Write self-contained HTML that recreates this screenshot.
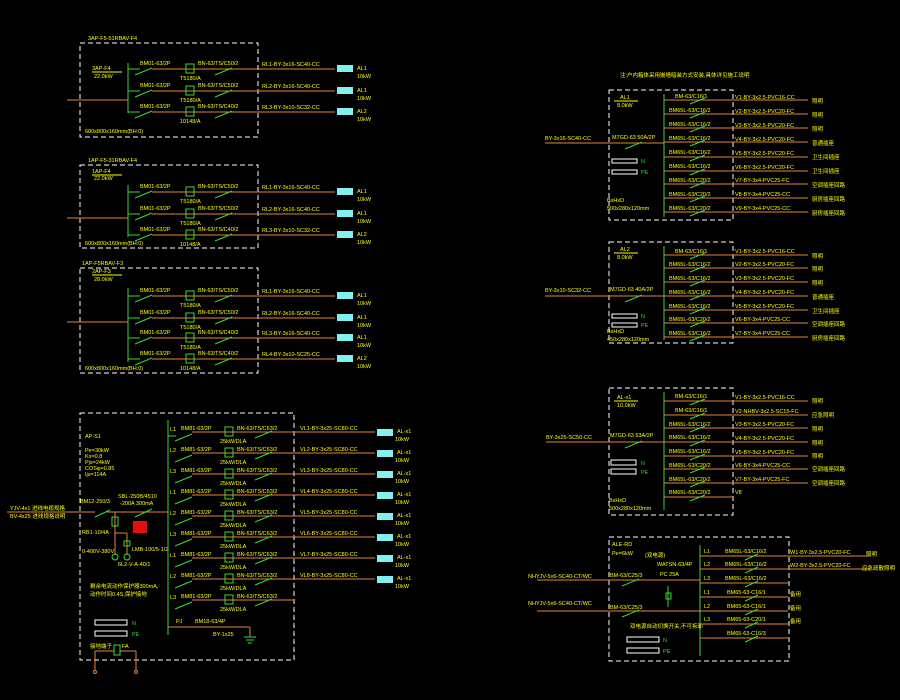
<!DOCTYPE html><html><head><meta charset="utf-8"><style>
html,body{margin:0;padding:0;background:#000;width:900px;height:700px;overflow:hidden}
svg text{font-family:"Liberation Sans","Noto Sans CJK SC",sans-serif;font-size:5.5px;fill:#ffff00}
.o{stroke:#e8823a;stroke-width:1;fill:none}.g{stroke:#33dd33;stroke-width:1;fill:none}
.d{stroke:#fff;stroke-width:1;fill:none;stroke-dasharray:5,3}.c{fill:#80f0f0}
</style></head><body>
<svg width="900" height="700" viewBox="0 0 900 700">
<!-- top-left panels -->
<rect class="d" x="80" y="43" width="178" height="94"/>
<text x="88" y="40">3AP-F5-51RBAV-F4</text><text x="92" y="70">3AP-F4</text><line x1="92" y1="72" x2="122" y2="72" stroke="#ff0"/><text x="94" y="78">22.0kW</text>
<text x="85" y="133">600x800x160mm(BH:0)</text>
<line class="o" x1="67" y1="100" x2="128" y2="100"/><line class="g" x1="128" y1="63" x2="128" y2="113"/>
<g><line class="g" x1="128" y1="69" x2="140" y2="69"/><line class="g" x1="135" y1="75" x2="152" y2="68"/><line class="o" x1="152" y1="69" x2="335" y2="69"/><rect x="186" y="64" width="8" height="9" fill="none" stroke="#3d3"/><line class="g" x1="215" y1="75" x2="232" y2="68"/><text x="140" y="65">BM01-63/2P</text><text x="198" y="65">BN-63/TS/C50/2</text><text x="180" y="80">T5180/A</text><text x="262" y="66">RL1-BY-3x16-SC40-CC</text><rect class="c" x="337" y="65" width="16" height="7"/><text x="357" y="70">AL1</text><text x="357" y="78">10kW</text></g>
<g><line class="g" x1="128" y1="91" x2="140" y2="91"/><line class="g" x1="135" y1="97" x2="152" y2="90"/><line class="o" x1="152" y1="91" x2="335" y2="91"/><rect x="186" y="86" width="8" height="9" fill="none" stroke="#3d3"/><line class="g" x1="215" y1="97" x2="232" y2="90"/><text x="140" y="87">BM01-63/2P</text><text x="198" y="87">BN-63/TS/C50/2</text><text x="180" y="102">T5180/A</text><text x="262" y="88">RL2-BY-3x16-SC40-CC</text><rect class="c" x="337" y="87" width="16" height="7"/><text x="357" y="92">AL1</text><text x="357" y="100">10kW</text></g>
<g><line class="g" x1="128" y1="112" x2="140" y2="112"/><line class="g" x1="135" y1="118" x2="152" y2="111"/><line class="o" x1="152" y1="112" x2="335" y2="112"/><rect x="186" y="107" width="8" height="9" fill="none" stroke="#3d3"/><line class="g" x1="215" y1="118" x2="232" y2="111"/><text x="140" y="108">BM01-63/2P</text><text x="198" y="108">BN-63/TS/C40/2</text><text x="180" y="123">10148/A</text><text x="262" y="109">RL3-BY-3x10-SC32-CC</text><rect class="c" x="337" y="108" width="16" height="7"/><text x="357" y="113">AL2</text><text x="357" y="121">10kW</text></g>

<rect class="d" x="80" y="165" width="178" height="83"/>
<text x="88" y="162">1AP-F5-31RBAV-F4</text><text x="92" y="173">1AP-F4</text><line x1="92" y1="175" x2="122" y2="175" stroke="#ff0"/><text x="94" y="180">22.0kW</text>
<text x="85" y="245">600x800x160mm(BH:0)</text>
<line class="o" x1="67" y1="218" x2="128" y2="218"/><line class="g" x1="128" y1="185" x2="128" y2="237"/>
<g><line class="g" x1="128" y1="192" x2="140" y2="192"/><line class="g" x1="135" y1="198" x2="152" y2="191"/><line class="o" x1="152" y1="192" x2="335" y2="192"/><rect x="186" y="187" width="8" height="9" fill="none" stroke="#3d3"/><line class="g" x1="215" y1="198" x2="232" y2="191"/><text x="140" y="188">BM01-63/2P</text><text x="198" y="188">BN-63/TS/C50/2</text><text x="180" y="203">T5180/A</text><text x="262" y="189">RL1-BY-3x16-SC40-CC</text><rect class="c" x="337" y="188" width="16" height="7"/><text x="357" y="193">AL1</text><text x="357" y="201">10kW</text></g>
<g><line class="g" x1="128" y1="214" x2="140" y2="214"/><line class="g" x1="135" y1="220" x2="152" y2="213"/><line class="o" x1="152" y1="214" x2="335" y2="214"/><rect x="186" y="209" width="8" height="9" fill="none" stroke="#3d3"/><line class="g" x1="215" y1="220" x2="232" y2="213"/><text x="140" y="210">BM01-63/2P</text><text x="198" y="210">BN-63/TS/C50/2</text><text x="180" y="225">T5180/A</text><text x="262" y="211">RL2-BY-3x16-SC40-CC</text><rect class="c" x="337" y="210" width="16" height="7"/><text x="357" y="215">AL1</text><text x="357" y="223">10kW</text></g>
<g><line class="g" x1="128" y1="235" x2="140" y2="235"/><line class="g" x1="135" y1="241" x2="152" y2="234"/><line class="o" x1="152" y1="235" x2="335" y2="235"/><rect x="186" y="230" width="8" height="9" fill="none" stroke="#3d3"/><line class="g" x1="215" y1="241" x2="232" y2="234"/><text x="140" y="231">BM01-63/2P</text><text x="198" y="231">BN-63/TS/C40/2</text><text x="180" y="246">10148/A</text><text x="262" y="232">RL3-BY-3x10-SC32-CC</text><rect class="c" x="337" y="231" width="16" height="7"/><text x="357" y="236">AL2</text><text x="357" y="244">10kW</text></g>

<rect class="d" x="80" y="268" width="178" height="105"/>
<text x="82" y="265">1AP-F5RBAV-F3</text><text x="92" y="273">2AP-F3</text><line x1="92" y1="275" x2="122" y2="275" stroke="#ff0"/><text x="94" y="281">28.0kW</text>
<text x="85" y="370">600x800x160mm(BH:0)</text>
<line class="o" x1="67" y1="322" x2="128" y2="322"/><line class="g" x1="128" y1="288" x2="128" y2="362"/>
<g><line class="g" x1="128" y1="296" x2="140" y2="296"/><line class="g" x1="135" y1="302" x2="152" y2="295"/><line class="o" x1="152" y1="296" x2="335" y2="296"/><rect x="186" y="291" width="8" height="9" fill="none" stroke="#3d3"/><line class="g" x1="215" y1="302" x2="232" y2="295"/><text x="140" y="292">BM01-63/2P</text><text x="198" y="292">BN-63/TS/C50/2</text><text x="180" y="307">T5180/A</text><text x="262" y="293">RL1-BY-3x16-SC40-CC</text><rect class="c" x="337" y="292" width="16" height="7"/><text x="357" y="297">AL1</text><text x="357" y="305">10kW</text></g>
<g><line class="g" x1="128" y1="318" x2="140" y2="318"/><line class="g" x1="135" y1="324" x2="152" y2="317"/><line class="o" x1="152" y1="318" x2="335" y2="318"/><rect x="186" y="313" width="8" height="9" fill="none" stroke="#3d3"/><line class="g" x1="215" y1="324" x2="232" y2="317"/><text x="140" y="314">BM01-63/2P</text><text x="198" y="314">BN-63/TS/C50/2</text><text x="180" y="329">T5180/A</text><text x="262" y="315">RL2-BY-3x16-SC40-CC</text><rect class="c" x="337" y="314" width="16" height="7"/><text x="357" y="319">AL1</text><text x="357" y="327">10kW</text></g>
<g><line class="g" x1="128" y1="338" x2="140" y2="338"/><line class="g" x1="135" y1="344" x2="152" y2="337"/><line class="o" x1="152" y1="338" x2="335" y2="338"/><rect x="186" y="333" width="8" height="9" fill="none" stroke="#3d3"/><line class="g" x1="215" y1="344" x2="232" y2="337"/><text x="140" y="334">BM01-63/2P</text><text x="198" y="334">BN-63/TS/C40/2</text><text x="180" y="349">T5180/A</text><text x="262" y="335">RL3-BY-3x16-SC40-CC</text><rect class="c" x="337" y="334" width="16" height="7"/><text x="357" y="339">AL1</text><text x="357" y="347">10kW</text></g>
<g><line class="g" x1="128" y1="359" x2="140" y2="359"/><line class="g" x1="135" y1="365" x2="152" y2="358"/><line class="o" x1="152" y1="359" x2="335" y2="359"/><rect x="186" y="354" width="8" height="9" fill="none" stroke="#3d3"/><line class="g" x1="215" y1="365" x2="232" y2="358"/><text x="140" y="355">BM01-63/2P</text><text x="198" y="355">BN-63/TS/C40/2</text><text x="180" y="370">10148/A</text><text x="262" y="356">RL4-BY-3x10-SC25-CC</text><rect class="c" x="337" y="355" width="16" height="7"/><text x="357" y="360">AL2</text><text x="357" y="368">10kW</text></g>

<!-- bottom-left AP -->
<rect class="d" x="80" y="413" width="214" height="247"/>
<text x="85" y="438">AP-S1</text><text x="85" y="452">Pe=30kW</text><text x="85" y="458">Kx=0.8</text><text x="85" y="464">Pjs=24kW</text><text x="85" y="470">COSφ=0.85</text><text x="85" y="476">Ijs=114A</text>
<text x="10" y="510">YJV-4x1 进线电缆规格</text><text x="10" y="518">BV-4x25 进线规格说明</text>
<line class="o" x1="7" y1="512" x2="95" y2="512"/><line class="o" x1="107" y1="512" x2="168" y2="512"/><line class="g" x1="95" y1="517" x2="110" y2="510"/>
<text x="80" y="503">BM12-250/3</text><text x="118" y="498">SBL-250B/4510</text><text x="120" y="505">-200A 300mA</text>
<line class="g" x1="135" y1="517" x2="152" y2="509"/>
<rect x="133" y="521" width="14" height="12" fill="#e01010"/>
<line class="o" x1="115" y1="512" x2="115" y2="555"/><rect x="112" y="517" width="6" height="9" fill="none" stroke="#3d3"/>
<line class="o" x1="115" y1="533" x2="127" y2="533" /><line class="o" x1="127" y1="533" x2="127" y2="555"/>
<rect x="124" y="541" width="6" height="5" fill="none" stroke="#3d3"/>
<circle cx="115" cy="557" r="3" fill="none" stroke="#3d3"/><circle cx="127" cy="557" r="3" fill="none" stroke="#3d3"/>
<text x="82" y="534">RB1-10/4A</text><text x="132" y="551">LMB-100/5-1/2</text><text x="82" y="553">0-400V-380V</text><text x="118" y="566">6L2-V-A-40/1</text>
<text x="90" y="588">剩余电流动作保护器300mA,</text><text x="90" y="596">动作时间0.4S,保护接地</text>
<rect x="95" y="620" width="32" height="5" fill="none" stroke="#fff"/><rect x="95" y="631" width="32" height="5" fill="none" stroke="#fff"/>
<text x="132" y="625" style="fill:#3d3">N</text><text x="132" y="636" style="fill:#3d3">PE</text>
<text x="90" y="648">接地端子</text><text x="122" y="648">FA</text>
<line class="o" x1="95" y1="651" x2="114" y2="651"/><line class="o" x1="120" y1="651" x2="136" y2="651"/><rect x="114" y="645" width="6" height="10" fill="none" stroke="#3d3"/>
<line class="o" x1="95" y1="651" x2="95" y2="670"/><line class="o" x1="136" y1="651" x2="136" y2="670"/><circle cx="95" cy="672" r="1.5" fill="none" stroke="#e8823a"/><circle cx="136" cy="672" r="1.5" fill="none" stroke="#e8823a"/>
<line class="g" x1="168" y1="420" x2="168" y2="635"/>
<g id="r1"><text x="170" y="431">L1</text><text x="181" y="430">BM81-63/2P</text><text x="237" y="430">BN-63/TS/C63/2</text><text x="220" y="443">25kW/DLA</text><line class="g" x1="168" y1="436" x2="176" y2="436"/><line class="g" x1="175" y1="441" x2="192" y2="434"/><line class="o" x1="192" y1="432" x2="375" y2="432"/><rect x="225" y="427" width="8" height="9" fill="none" stroke="#3d3"/><line class="g" x1="255" y1="438" x2="272" y2="431"/><text x="300" y="430">VL1-BY-3x25-SC80-CC</text><rect class="c" x="377" y="429" width="16" height="7"/><text x="397" y="433">AL-x1</text><text x="395" y="441">10kW</text></g>
<g><text x="170" y="452">L2</text><text x="181" y="451">BM81-63/2P</text><text x="237" y="451">BN-63/TS/C63/2</text><text x="220" y="464">25kW/DLA</text><line class="g" x1="175" y1="462" x2="192" y2="455"/><line class="o" x1="192" y1="453" x2="375" y2="453"/><rect x="225" y="448" width="8" height="9" fill="none" stroke="#3d3"/><line class="g" x1="255" y1="459" x2="272" y2="452"/><text x="300" y="451">VL2-BY-3x25-SC80-CC</text><rect class="c" x="377" y="450" width="16" height="7"/><text x="397" y="454">AL-x1</text><text x="395" y="462">10kW</text></g>
<g><text x="170" y="473">L3</text><text x="181" y="472">BM81-63/2P</text><text x="237" y="472">BN-63/TS/C63/2</text><text x="220" y="485">25kW/DLA</text><line class="g" x1="175" y1="483" x2="192" y2="476"/><line class="o" x1="192" y1="474" x2="375" y2="474"/><rect x="225" y="469" width="8" height="9" fill="none" stroke="#3d3"/><line class="g" x1="255" y1="480" x2="272" y2="473"/><text x="300" y="472">VL3-BY-3x25-SC80-CC</text><rect class="c" x="377" y="471" width="16" height="7"/><text x="397" y="475">AL-x1</text><text x="395" y="483">10kW</text></g>
<g><text x="170" y="494">L1</text><text x="181" y="493">BM81-63/2P</text><text x="237" y="493">BN-63/TS/C63/2</text><text x="220" y="506">25kW/DLA</text><line class="g" x1="175" y1="504" x2="192" y2="497"/><line class="o" x1="192" y1="495" x2="375" y2="495"/><rect x="225" y="490" width="8" height="9" fill="none" stroke="#3d3"/><line class="g" x1="255" y1="501" x2="272" y2="494"/><text x="300" y="493">VL4-BY-3x25-SC80-CC</text><rect class="c" x="377" y="492" width="16" height="7"/><text x="397" y="496">AL-x1</text><text x="395" y="504">10kW</text></g>
<g><text x="170" y="515">L2</text><text x="181" y="514">BM81-63/2P</text><text x="237" y="514">BN-63/TS/C63/2</text><text x="220" y="527">25kW/DLA</text><line class="g" x1="175" y1="525" x2="192" y2="518"/><line class="o" x1="192" y1="516" x2="375" y2="516"/><rect x="225" y="511" width="8" height="9" fill="none" stroke="#3d3"/><line class="g" x1="255" y1="522" x2="272" y2="515"/><text x="300" y="514">VL5-BY-3x25-SC80-CC</text><rect class="c" x="377" y="513" width="16" height="7"/><text x="397" y="517">AL-x1</text><text x="395" y="525">10kW</text></g>
<g><text x="170" y="536">L3</text><text x="181" y="535">BM81-63/2P</text><text x="237" y="535">BN-63/TS/C63/2</text><text x="220" y="548">25kW/DLA</text><line class="g" x1="175" y1="546" x2="192" y2="539"/><line class="o" x1="192" y1="537" x2="375" y2="537"/><rect x="225" y="532" width="8" height="9" fill="none" stroke="#3d3"/><line class="g" x1="255" y1="543" x2="272" y2="536"/><text x="300" y="535">VL6-BY-3x25-SC80-CC</text><rect class="c" x="377" y="534" width="16" height="7"/><text x="397" y="538">AL-x1</text><text x="395" y="546">10kW</text></g>
<g><text x="170" y="557">L1</text><text x="181" y="556">BM81-63/2P</text><text x="237" y="556">BN-63/TS/C63/2</text><text x="220" y="569">25kW/DLA</text><line class="g" x1="175" y1="567" x2="192" y2="560"/><line class="o" x1="192" y1="558" x2="375" y2="558"/><rect x="225" y="553" width="8" height="9" fill="none" stroke="#3d3"/><line class="g" x1="255" y1="564" x2="272" y2="557"/><text x="300" y="556">VL7-BY-3x25-SC80-CC</text><rect class="c" x="377" y="555" width="16" height="7"/><text x="397" y="559">AL-x1</text><text x="395" y="567">10kW</text></g>
<g><text x="170" y="578">L2</text><text x="181" y="577">BM81-63/2P</text><text x="237" y="577">BN-63/TS/C63/2</text><text x="220" y="590">25kW/DLA</text><line class="g" x1="175" y1="588" x2="192" y2="581"/><line class="o" x1="192" y1="579" x2="375" y2="579"/><rect x="225" y="574" width="8" height="9" fill="none" stroke="#3d3"/><line class="g" x1="255" y1="585" x2="272" y2="578"/><text x="300" y="577">VL8-BY-3x25-SC80-CC</text><rect class="c" x="377" y="576" width="16" height="7"/><text x="397" y="580">AL-x1</text><text x="395" y="588">10kW</text></g>
<g><text x="170" y="599">L3</text><text x="181" y="598">BM81-63/2P</text><text x="237" y="598">BN-63/TS/C63/2</text><text x="220" y="611">25kW/DLA</text><line class="g" x1="175" y1="609" x2="192" y2="602"/><line class="o" x1="192" y1="600" x2="294" y2="600"/><rect x="225" y="595" width="8" height="9" fill="none" stroke="#3d3"/><line class="g" x1="255" y1="606" x2="272" y2="599"/></g>
<text x="176" y="623">PJ</text><text x="195" y="623">BM18-63/4P</text><text x="213" y="636">BY-1x25</text>
<line class="o" x1="168" y1="627" x2="250" y2="627"/><line class="o" x1="250" y1="627" x2="250" y2="637"/><line x1="244" y1="637" x2="256" y2="637" stroke="#3d3"/><line x1="246" y1="640" x2="254" y2="640" stroke="#3d3"/><line x1="248" y1="643" x2="252" y2="643" stroke="#3d3"/>

<!-- right AL1 -->
<text x="620" y="77">注:户内箱体采用嵌墙暗装方式安装,具体详见施工说明</text>
<rect class="d" x="609" y="90" width="124" height="130"/>
<text x="620" y="99">AL1</text><line x1="614" y1="101" x2="638" y2="101" stroke="#ff0"/><text x="617" y="107">8.0kW</text>
<text x="545" y="140">BY-3x16-SC40-CC</text><text x="612" y="139">M7GD-63 50A/2P</text>
<line class="o" x1="545" y1="143" x2="664" y2="143"/><line class="g" x1="625" y1="149" x2="642" y2="142"/>
<rect x="612" y="159" width="25" height="4" fill="none" stroke="#fff"/><rect x="612" y="170" width="25" height="4" fill="none" stroke="#fff"/><text x="641" y="163" style="fill:#3d3">N</text><text x="641" y="174" style="fill:#3d3">PE</text>
<text x="607" y="202">BxHxD</text><text x="607" y="210">500x280x120mm</text>
<line class="g" x1="664" y1="94" x2="664" y2="217"/>
<g class="o"><line x1="664" y1="100" x2="808" y2="100"/><line x1="664" y1="114" x2="808" y2="114"/><line x1="664" y1="128" x2="808" y2="128"/><line x1="664" y1="142" x2="808" y2="142"/><line x1="664" y1="157" x2="808" y2="157"/><line x1="664" y1="171" x2="808" y2="171"/><line x1="664" y1="184" x2="808" y2="184"/><line x1="664" y1="198" x2="808" y2="198"/><line x1="664" y1="212" x2="808" y2="212"/></g>
<g class="g"><line x1="690" y1="104" x2="705" y2="98"/><line x1="690" y1="118" x2="705" y2="112"/><line x1="690" y1="132" x2="705" y2="126"/><line x1="690" y1="146" x2="705" y2="140"/><line x1="690" y1="161" x2="705" y2="155"/><line x1="690" y1="175" x2="705" y2="169"/><line x1="690" y1="188" x2="705" y2="182"/><line x1="690" y1="202" x2="705" y2="196"/><line x1="690" y1="216" x2="705" y2="210"/></g>
<text x="675" y="98">BM-63/C16/1</text><text x="669" y="112">BM65L-63/C16/2</text><text x="669" y="126">BM65L-63/C16/2</text><text x="669" y="140">BM65L-63/C16/2</text><text x="669" y="154">BM65L-63/C16/2</text><text x="669" y="168">BM65L-63/C16/2</text><text x="669" y="182">BM65L-63/C20/2</text><text x="669" y="196">BM65L-63/C20/2</text><text x="669" y="210">BM65L-63/C20/2</text>
<text x="735" y="99">V1-BY-3x2.5-PVC16-CC</text><text x="735" y="113">V2-BY-3x2.5-PVC20-FC</text><text x="735" y="127">V3-BY-3x2.5-PVC20-FC</text><text x="735" y="141">V4-BY-3x2.5-PVC20-FC</text><text x="735" y="155">V5-BY-3x2.5-PVC20-FC</text><text x="735" y="169">V6-BY-3x2.5-PVC20-FC</text><text x="735" y="182">V7-BY-3x4-PVC25-FC</text><text x="735" y="196">V8-BY-3x4-PVC25-CC</text><text x="735" y="210">V9-BY-3x4-PVC25-CC</text>
<text x="812" y="103">照明</text><text x="812" y="117">照明</text><text x="812" y="131">照明</text><text x="812" y="145">普通插座</text><text x="812" y="159">卫生间插座</text><text x="812" y="173">卫生间插座</text><text x="812" y="187">空调插座回路</text><text x="812" y="201">厨房插座回路</text><text x="812" y="215">厨房插座回路</text>

<!-- AL2 -->
<rect class="d" x="609" y="242" width="124" height="101"/>
<text x="620" y="251">AL2</text><line x1="614" y1="253" x2="638" y2="253" stroke="#ff0"/><text x="617" y="259">8.0kW</text>
<text x="545" y="292">BY-3x10-SC32-CC</text><text x="610" y="291">M7GD-63 40A/2P</text>
<line class="o" x1="545" y1="296" x2="664" y2="296"/><line class="g" x1="625" y1="302" x2="642" y2="295"/>
<rect x="612" y="314" width="25" height="4" fill="none" stroke="#fff"/><rect x="612" y="323" width="25" height="4" fill="none" stroke="#fff"/><text x="641" y="318" style="fill:#3d3">N</text><text x="641" y="327" style="fill:#3d3">PE</text>
<text x="607" y="333">BxHxD</text><text x="607" y="341">450x280x120mm</text>
<line class="g" x1="664" y1="246" x2="664" y2="340"/>
<g class="o"><line x1="664" y1="255" x2="808" y2="255"/><line x1="664" y1="268" x2="808" y2="268"/><line x1="664" y1="282" x2="808" y2="282"/><line x1="664" y1="296" x2="808" y2="296"/><line x1="664" y1="310" x2="808" y2="310"/><line x1="664" y1="323" x2="808" y2="323"/><line x1="664" y1="337" x2="808" y2="337"/></g>
<g class="g"><line x1="690" y1="259" x2="705" y2="253"/><line x1="690" y1="272" x2="705" y2="266"/><line x1="690" y1="286" x2="705" y2="280"/><line x1="690" y1="300" x2="705" y2="294"/><line x1="690" y1="314" x2="705" y2="308"/><line x1="690" y1="327" x2="705" y2="321"/><line x1="690" y1="341" x2="705" y2="335"/></g>
<text x="675" y="253">BM-63/C16/1</text><text x="669" y="266">BM65L-63/C16/2</text><text x="669" y="280">BM65L-63/C16/2</text><text x="669" y="294">BM65L-63/C16/2</text><text x="669" y="308">BM65L-63/C16/2</text><text x="669" y="321">BM65L-63/C20/2</text><text x="669" y="335">BM65L-63/C16/2</text>
<text x="735" y="253">V1-BY-3x2.5-PVC16-CC</text><text x="735" y="266">V2-BY-3x2.5-PVC20-FC</text><text x="735" y="280">V3-BY-3x2.5-PVC20-FC</text><text x="735" y="294">V4-BY-3x2.5-PVC20-FC</text><text x="735" y="308">V5-BY-3x2.5-PVC20-FC</text><text x="735" y="321">V6-BY-3x4-PVC25-CC</text><text x="735" y="335">V7-BY-3x4-PVC25-CC</text>
<text x="812" y="258">照明</text><text x="812" y="271">照明</text><text x="812" y="285">照明</text><text x="812" y="299">普通插座</text><text x="812" y="313">卫生间插座</text><text x="812" y="326">空调插座回路</text><text x="812" y="340">厨房插座回路</text>

<!-- AL3 -->
<rect class="d" x="609" y="388" width="124" height="127"/>
<text x="617" y="399">AL-x1</text><line x1="614" y1="401" x2="638" y2="401" stroke="#ff0"/><text x="617" y="407">10.0kW</text>
<text x="546" y="439">BY-3x25-SC50-CC</text><text x="610" y="437">M7GD-63 63A/2P</text>
<line class="o" x1="546" y1="442" x2="664" y2="442"/><line class="g" x1="625" y1="448" x2="642" y2="441"/>
<rect x="611" y="460" width="25" height="5" fill="none" stroke="#fff"/><rect x="611" y="469" width="25" height="5" fill="none" stroke="#fff"/><text x="641" y="465" style="fill:#3d3">N</text><text x="641" y="474" style="fill:#3d3">PE</text>
<text x="609" y="502">BxHxD</text><text x="609" y="510">500x280x120mm</text>
<line class="g" x1="664" y1="392" x2="664" y2="510"/>
<g class="o"><line x1="664" y1="401" x2="808" y2="401"/><line x1="664" y1="415" x2="808" y2="415"/><line x1="664" y1="428" x2="808" y2="428"/><line x1="664" y1="442" x2="808" y2="442"/><line x1="664" y1="456" x2="808" y2="456"/><line x1="664" y1="469" x2="808" y2="469"/><line x1="664" y1="483" x2="808" y2="483"/><line x1="664" y1="497" x2="733" y2="497"/></g>
<g class="g"><line x1="690" y1="405" x2="705" y2="399"/><line x1="690" y1="419" x2="705" y2="413"/><line x1="690" y1="432" x2="705" y2="426"/><line x1="690" y1="446" x2="705" y2="440"/><line x1="690" y1="460" x2="705" y2="454"/><line x1="690" y1="473" x2="705" y2="467"/><line x1="690" y1="487" x2="705" y2="481"/><line x1="690" y1="501" x2="705" y2="495"/></g>
<text x="675" y="398">BM-63/C16/1</text><text x="675" y="412">BM-63/C16/1</text><text x="669" y="426">BM65L-63/C16/2</text><text x="669" y="439">BM65L-63/C16/2</text><text x="669" y="453">BM65L-63/C16/2</text><text x="669" y="467">BM65L-63/C20/2</text><text x="669" y="481">BM65L-63/C20/2</text><text x="669" y="494">BM65L-63/C20/2</text>
<text x="735" y="399">V1-BY-3x2.5-PVC16-CC</text><text x="735" y="413">V2-NHBV-3x2.5-SC15-FC</text><text x="735" y="426">V3-BY-3x2.5-PVC20-FC</text><text x="735" y="440">V4-BY-3x2.5-PVC20-FC</text><text x="735" y="454">V5-BY-3x2.5-PVC20-FC</text><text x="735" y="467">V6-BY-3x4-PVC25-CC</text><text x="735" y="481">V7-BY-3x4-PVC25-FC</text><text x="735" y="494">V8</text>
<text x="812" y="403">照明</text><text x="812" y="417">应急照明</text><text x="812" y="431">照明</text><text x="812" y="445">照明</text><text x="812" y="458">照明</text><text x="812" y="471">空调插座回路</text><text x="812" y="485">空调插座回路</text>

<!-- ALE -->
<rect class="d" x="609" y="537" width="180" height="124"/>
<text x="612" y="546">ALE-RD</text><text x="612" y="555">Pe=6kW</text><text x="645" y="557">(双电源)</text>
<text x="657" y="566">WATSN-63/4P</text><text x="660" y="576">PC 25A</text>
<text x="528" y="578">NHYJV-5x6-SC40-CT/WC</text><text x="528" y="605">NHYJV-5x6-SC40-CT/WC</text>
<text x="610" y="577">BM-63/C25/3</text><text x="610" y="609">BM-63/C25/3</text>
<line class="o" x1="537" y1="580" x2="700" y2="580"/><line class="o" x1="537" y1="611" x2="700" y2="611"/>
<line class="g" x1="622" y1="586" x2="639" y2="579"/><line class="g" x1="622" y1="617" x2="639" y2="610"/>
<line class="g" x1="668" y1="586" x2="668" y2="607"/><rect x="666" y="593" width="5" height="6" fill="none" stroke="#3d3"/>
<text x="630" y="628">双电源自动切换开关,不可拆卸</text>
<rect x="627" y="637" width="32" height="5" fill="none" stroke="#fff"/><rect x="627" y="648" width="32" height="5" fill="none" stroke="#fff"/><text x="663" y="642" style="fill:#3d3">N</text><text x="663" y="653" style="fill:#3d3">PE</text>
<line class="g" x1="700" y1="545" x2="700" y2="656"/>
<text x="704" y="553">L1</text><text x="704" y="566">L2</text><text x="704" y="580">L3</text><text x="704" y="594">L1</text><text x="704" y="608">L2</text><text x="704" y="621">L3</text>
<g class="o"><line x1="700" y1="556" x2="870" y2="556"/><line x1="700" y1="569" x2="870" y2="569"/><line x1="700" y1="583" x2="788" y2="583"/><line x1="700" y1="597" x2="788" y2="597"/><line x1="700" y1="611" x2="788" y2="611"/><line x1="700" y1="624" x2="788" y2="624"/><line x1="700" y1="638" x2="788" y2="638"/></g>
<g class="g"><line x1="745" y1="560" x2="758" y2="554"/><line x1="745" y1="573" x2="758" y2="567"/><line x1="745" y1="587" x2="758" y2="581"/><line x1="745" y1="601" x2="758" y2="595"/><line x1="745" y1="615" x2="758" y2="609"/><line x1="745" y1="628" x2="758" y2="622"/><line x1="745" y1="642" x2="758" y2="636"/></g>
<text x="725" y="553">BM65L-63/C16/2</text><text x="725" y="566">BM65L-63/C16/2</text><text x="725" y="580">BM65L-63/C16/2</text><text x="727" y="594">BM65-63-C16/1</text><text x="727" y="608">BM65-63-C16/1</text><text x="727" y="621">BM65-63-C20/1</text><text x="727" y="635">BM65-63-C16/3</text>
<text x="790" y="554">W1-BY-3x2.5-PVC20-FC</text><text x="790" y="567">W2-BY-3x2.5-PVC20-FC</text>
<text x="866" y="556">照明</text><text x="862" y="570">应急疏散照明</text><text x="790" y="596">备用</text><text x="790" y="610">备用</text><text x="790" y="623">备用</text>
</svg>
</body></html>
